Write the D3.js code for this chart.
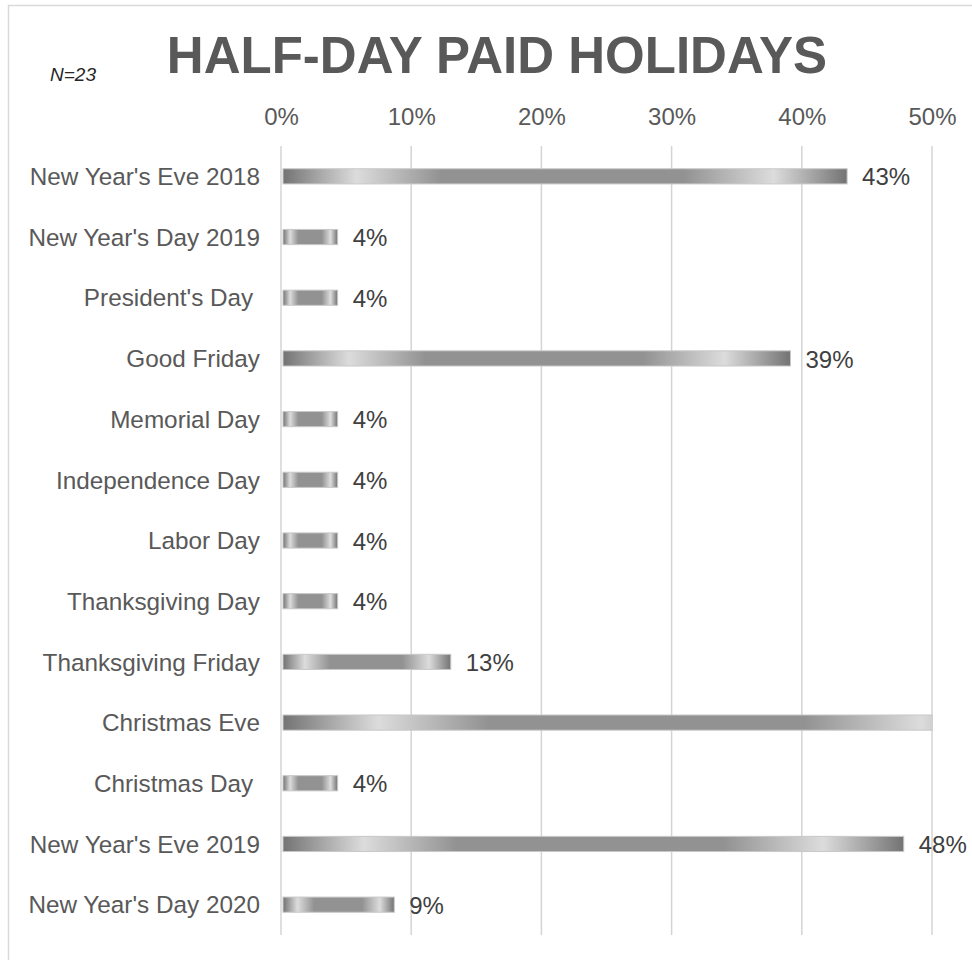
<!DOCTYPE html>
<html>
<head>
<meta charset="utf-8">
<script src="https://cdn.jsdelivr.net/npm/d3@7"></script>
<style>
  html, body { margin: 0; padding: 0; background: #fff; }
  svg { display: block; font-family: "Liberation Sans", Arial, sans-serif; }
</style>
</head>
<body>
<svg id="chart" width="972" height="960"></svg>
<script>
const title = "HALF-DAY PAID HOLIDAYS";
const note = "N=23";
const categories = [
  "New Year's Eve 2018", "New Year's Day 2019", "President's Day ", "Good Friday",
  "Memorial Day", "Independence Day", "Labor Day", "Thanksgiving Day",
  "Thanksgiving Friday", "Christmas Eve", "Christmas Day ", "New Year's Eve 2019",
  "New Year's Day 2020"
];
const values = [0.4348, 0.0435, 0.0435, 0.3913, 0.0435, 0.0435, 0.0435, 0.0435, 0.1304, 0.5652, 0.0435, 0.4783, 0.0870];
const ticks = [0, 0.1, 0.2, 0.3, 0.4, 0.5];

const svg = d3.select("#chart");
const pLeft = 281, pRight = 932, pTop = 146, pBottom = 935;

// outer chart border
svg.append("rect").attr("x", 8.5).attr("y", 5.5).attr("width", 980).attr("height", 980)
  .attr("fill", "none").attr("stroke", "#d9d9d9").attr("stroke-width", 1.5);

const x = d3.scaleLinear().domain([0, 0.5]).range([pLeft, pRight]);
const y = d3.scaleBand().domain(categories).range([pTop, pBottom])
  .paddingInner(0.75).paddingOuter(0.375);

const defs = svg.append("defs");
const grad = defs.append("linearGradient").attr("id", "barGrad")
  .attr("x1", "0").attr("x2", "1").attr("y1", "0").attr("y2", "0");
[[0, "#737373"], [0.13, "#dcdcdc"], [0.28, "#929292"], [0.71, "#929292"], [0.87, "#dcdcdc"], [1, "#737373"]]
  .forEach(([o, c]) => grad.append("stop").attr("offset", o).attr("stop-color", c));
defs.append("clipPath").attr("id", "plotClip").append("rect")
  .attr("x", pLeft).attr("y", pTop).attr("width", pRight - pLeft + 1).attr("height", pBottom - pTop);

// title and note
svg.append("text").attr("x", 497).attr("y", 73).attr("text-anchor", "middle")
  .attr("font-size", 51).attr("font-weight", "bold").attr("fill", "#595959").text(title);
svg.append("text").attr("x", 50).attr("y", 81).attr("font-size", 19)
  .attr("font-style", "italic").attr("fill", "#262626").text(note);

// gridlines
svg.append("g").selectAll("line").data(ticks).join("line")
  .attr("x1", d => x(d)).attr("x2", d => x(d)).attr("y1", pTop).attr("y2", pBottom)
  .attr("stroke", "#d4d4d4").attr("stroke-width", 1.5);

// top axis
const axis = svg.append("g").attr("transform", `translate(0,${pTop - 21})`)
  .call(d3.axisTop(x).tickValues(ticks).tickFormat(d3.format(".0%")).tickSize(0).tickPadding(0));
axis.select(".domain").remove();
axis.selectAll("text").attr("font-size", 24).attr("fill", "#595959")
  .attr("font-family", "Liberation Sans, Arial, sans-serif").attr("dy", 0);

// category labels
svg.append("g").selectAll("text").data(categories).join("text")
  .attr("x", 260).attr("y", d => y(d) + y.bandwidth() / 2).attr("dy", "0.36em")
  .attr("text-anchor", "end").attr("font-size", 24.3).attr("fill", "#595959")
  .style("white-space", "pre").text(d => d);

// bars
svg.append("g").attr("clip-path", "url(#plotClip)").selectAll("rect")
  .data(categories.map((c, i) => ({ c, v: values[i] }))).join("rect")
  .attr("x", x(0) + 2).attr("y", d => y(d.c)).attr("width", d => x(d.v) - x(0) - 2)
  .attr("height", y.bandwidth()).attr("fill", "url(#barGrad)")
  .attr("stroke", "#c8c8c8").attr("stroke-width", 1);

// data labels
svg.append("g").selectAll("text")
  .data(categories.map((c, i) => ({ c, v: values[i] })).filter(d => d.v <= 0.5)).join("text")
  .attr("x", d => x(d.v) + 15).attr("y", d => y(d.c) + y.bandwidth() / 2).attr("dy", "0.38em")
  .attr("font-size", 24).attr("fill", "#404040").text(d => d3.format(".0%")(d.v));
</script>
</body>
</html>
